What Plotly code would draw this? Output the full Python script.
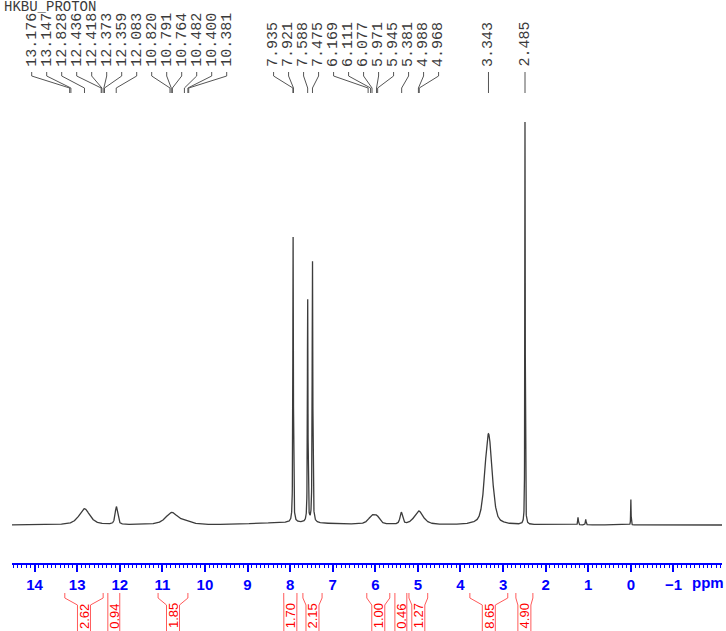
import numpy as np
import plotly.graph_objects as go

# ---------------- data ----------------
# spectrum components: position (ppm), relative height, FWHM (ppm), Lorentzian fraction
peak_ppm    = [12.83, 12.08, 10.78, 10.45, 8.00, 7.93, 7.588, 7.475, 6.08, 5.96, 5.39, 4.98, 3.343, 2.485, 1.24, 1.06, 0.00]
peak_height = [4.0,   4.4,   3.0,   0.7,   0.6,  70.5, 55.5,  65.0,  2.0,  1.5,  2.9,  3.4,  22.5,  100.0, 1.9,  1.4,  6.3]
peak_fwhm   = [0.30,  0.07,  0.34,  0.30,  2.0,  0.016, 0.016, 0.018, 0.20, 0.15, 0.07, 0.25, 0.20,  0.012, 0.02, 0.02, 0.012]
peak_eta    = [0.7,   0.6,   0.7,   0.7,   0.0,  0.7,  0.7,   0.7,   0.7,  0.7,  0.6,  0.7,  0.45,  0.6,   0.5,  0.5,  0.5]

# peak-picking labels
pick_labels = ["13.176", "13.147", "12.828", "12.436", "12.418", "12.373", "12.359", "12.083",
               "10.820", "10.791", "10.764", "10.482", "10.400", "10.381",
               "7.935", "7.921", "7.588", "7.475", "6.169", "6.111", "6.077", "5.971",
               "5.945", "5.381", "4.988", "4.968", "3.343", "2.485"]

# integral regions
int_from  = [13.29, 12.28, 11.10, 8.15, 7.70, 6.20, 5.54, 5.21, 3.78, 2.70]
int_to    = [12.39, 12.00, 10.40, 7.84, 7.25, 5.66, 5.26, 4.77, 2.89, 2.30]
int_value = ["2.62", "0.94", "1.85", "1.70", "2.15", "1.00", "0.46", "1.27", "8.65", "4.90"]

tick_vals = [14, 13, 12, 11, 10, 9, 8, 7, 6, 5, 4, 3, 2, 1, 0, -1]
title_text = "HKBU_PROTON"

# ---------------- geometry ----------------
W, H = 726, 631
ML, MR, MT, MB = 12, 4, 100, 68
X0, X1 = 14.53, -2.14
PW = W - ML - MR
PH = H - MT - MB
Y0, Y1 = -9.38, 104.94


def px2ppm(px):
    return X0 + (px - ML) * (X1 - X0) / PW


def ppm2px(p):
    return ML + (p - X0) / (X1 - X0) * PW


def py2paper(py):
    return (H - MB - py) / PH


# spectrum
x = np.linspace(X0, X1, 9000)
y = np.zeros_like(x)
for p, h, w, e in zip(peak_ppm, peak_height, peak_fwhm, peak_eta):
    hw = w / 2.0
    lor = 1.0 / (1.0 + ((x - p) / hw) ** 2)
    gau = np.exp(-np.log(2) * ((x - p) / hw) ** 2)
    y += h * (e * lor + (1 - e) * gau)

fig = go.Figure()
fig.add_trace(go.Scatter(x=x, y=y, mode="lines",
                         line=dict(color="#3c3c3c", width=1.3),
                         hoverinfo="skip", showlegend=False))

shapes = []
annotations = []

# ---------------- peak labels ----------------
label_ppm = [float(s) for s in pick_labels]
peak_px = [ppm2px(p) for p in label_ppm]
gap = 15.0
clusters = [[i] for i in range(len(peak_px))]
changed = True
while changed:
    changed = False
    merged = []
    for c in clusters:
        if merged:
            prev = merged[-1]
            pc = (peak_px[prev[0]] + peak_px[prev[-1]]) / 2
            cc = (peak_px[c[0]] + peak_px[c[-1]]) / 2
            prev_end = pc + (len(prev) - 1) * gap / 2
            cur_start = cc - (len(c) - 1) * gap / 2
            if cur_start - prev_end < 2 * gap:
                merged[-1] = prev + c
                changed = True
                continue
        merged.append(c)
    clusters = merged

label_px = [0.0] * len(peak_px)
for c in clusters:
    center = (peak_px[c[0]] + peak_px[c[-1]]) / 2
    start = center - (len(c) - 1) * gap / 2
    for k, i in enumerate(c):
        label_px[i] = start + k * gap

mono = "Liberation Mono, Courier New, monospace"
for txt, lp, pp in zip(pick_labels, label_px, label_ppm):
    annotations.append(dict(text=txt, x=px2ppm(lp), xref="x", y=py2paper(68), yref="paper",
                            xanchor="center", yanchor="bottom", textangle=-90, showarrow=False,
                            borderpad=0, font=dict(family=mono, size=15, color="#3a3a3a")))
    lx = px2ppm(lp)
    path = (f"M {lx},{py2paper(72)} L {lx},{py2paper(76)} "
            f"L {pp},{py2paper(88)} L {pp},{py2paper(93)}")
    shapes.append(dict(type="path", path=path, xref="x", yref="paper",
                       line=dict(color="#555555", width=1)))

annotations.append(dict(text=title_text, x=(2 - ML) / PW, xref="paper", y=py2paper(7), yref="paper",
                        xanchor="left", yanchor="middle", showarrow=False,
                        font=dict(family=mono, size=14, color="#3a3a3a")))

# ---------------- integrals ----------------
red_line = "#ff5a5a"
for a, b, v in zip(int_from, int_to, int_value):
    pa, pb = ppm2px(a), ppm2px(b)
    c = (pa + pb) / 2
    half = (pb - pa) / 2
    inner = min(half, 6.5)
    for side in (-1, 1):
        xe = px2ppm(c + side * half)
        xi = px2ppm(c + side * inner)
        path = (f"M {xe},{py2paper(593)} L {xe},{py2paper(598)} "
                f"L {xi},{py2paper(605)} L {xi},{py2paper(640)}")
        shapes.append(dict(type="path", path=path, xref="x", yref="paper",
                           line=dict(color=red_line, width=1)))
    annotations.append(dict(text=v, x=px2ppm(c), xref="x", y=py2paper(616), yref="paper",
                            xanchor="center", yanchor="middle", textangle=-90, showarrow=False,
                            borderpad=0,
                            font=dict(family="Liberation Sans, Arial", size=13, color="#ff0000")))

# ppm unit label
annotations.append(dict(text="<b>ppm</b>", x=px2ppm(708), xref="x", y=py2paper(582), yref="paper",
                        xanchor="center", yanchor="middle", showarrow=False,
                        font=dict(family="Liberation Sans, Arial", size=15, color="blue")))

fig.update_layout(
    width=W, height=H,
    margin=dict(l=ML, r=MR, t=MT, b=MB),
    paper_bgcolor="white", plot_bgcolor="white",
    showlegend=False,
    shapes=shapes, annotations=annotations,
    xaxis=dict(range=[X0, X1], showline=True, linecolor="blue", linewidth=1.5,
               ticks="outside", ticklen=7, tickwidth=1.5, tickcolor="blue",
               tickmode="array", tickvals=tick_vals,
               tickfont=dict(family="Liberation Sans, Arial", size=15, color="blue", weight="bold"),
               ticklabelstandoff=0,
               showgrid=False, zeroline=False,
               minor=dict(dtick=0.1, tick0=0, ticks="outside", ticklen=3, tickwidth=1,
                          tickcolor="blue", showgrid=False)),
    yaxis=dict(range=[Y0, Y1], visible=False, showgrid=False, zeroline=False),
)

fig.write_html("out.html", config={"displayModeBar": False},
               post_script="document.body.style.margin='0px';")
